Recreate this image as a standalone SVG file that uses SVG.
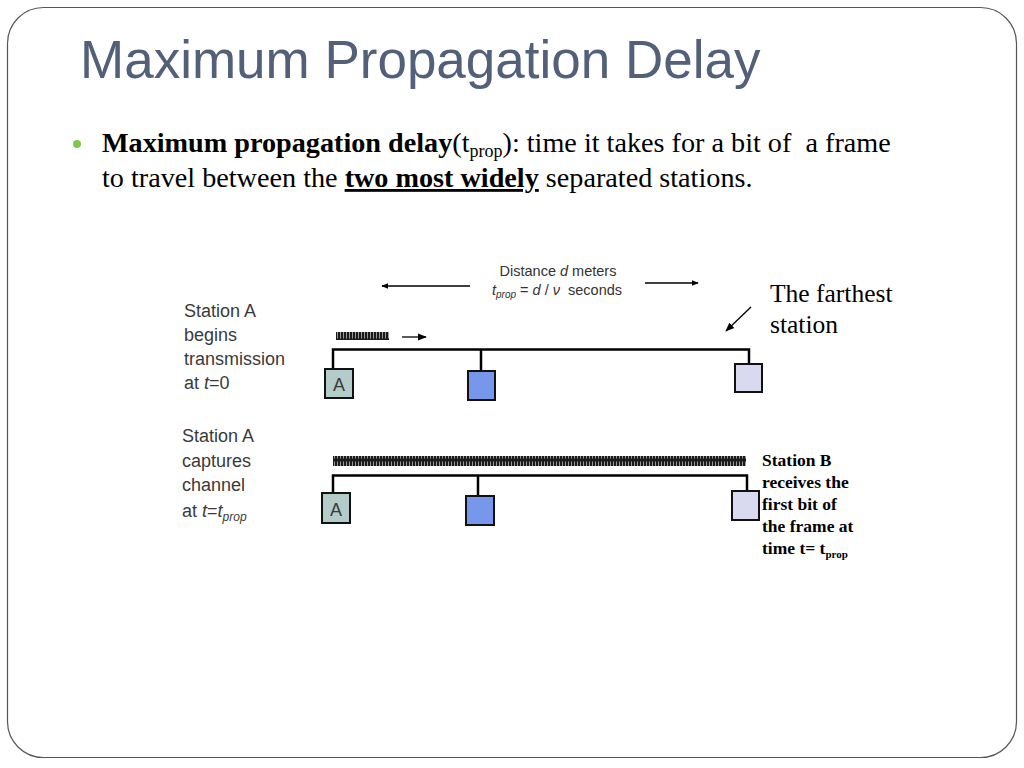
<svg xmlns="http://www.w3.org/2000/svg" width="1024" height="768" viewBox="0 0 1024 768">
<defs>
<style>
.title{font-family:"Liberation Sans",Arial,sans-serif;font-size:53px;fill:#52607A}
.body{font-family:"Liberation Serif","Times New Roman",serif;font-size:28.2px;fill:#000}
.lbl{font-family:"Liberation Sans",Arial,sans-serif;font-size:18px;fill:#3a3a3a}
.small{font-family:"Liberation Sans",Arial,sans-serif;font-size:14.5px;fill:#333}
.serif22{font-family:"Liberation Serif","Times New Roman",serif;font-size:25.5px;fill:#000}
.sb{font-family:"Liberation Serif","Times New Roman",serif;font-size:17.5px;font-weight:bold;fill:#000}
.bus{stroke:#000;stroke-width:2.5;fill:none}
.box{stroke:#111;stroke-width:2}
.arr{stroke:#000;stroke-width:1.3;fill:none}
</style>
<pattern id="bits" x="0" y="0" width="3" height="10" patternUnits="userSpaceOnUse">
<rect width="3" height="10" fill="#1a1a1a"/>
<rect x="1" y="1.5" width="1" height="7" fill="#999"/>
</pattern>
<marker id="ah" viewBox="0 0 10 10" refX="9" refY="5" markerWidth="7" markerHeight="7" markerUnits="userSpaceOnUse" orient="auto">
<path d="M0,1 L10,5 L0,9 Z" fill="#000"/>
</marker>
<marker id="ahb" viewBox="0 0 10 10" refX="9" refY="5" markerWidth="9" markerHeight="9" markerUnits="userSpaceOnUse" orient="auto">
<path d="M0,1 L10,5 L0,9 Z" fill="#000"/>
</marker>
</defs>
<rect x="0" y="0" width="1024" height="768" fill="#fff"/>
<rect x="7.5" y="7.5" width="1009" height="750" rx="36" ry="36" fill="none" stroke="#555" stroke-width="1.2"/>

<text class="title" x="80" y="78">Maximum Propagation Delay</text>

<circle cx="77" cy="144" r="4" fill="#7CC84A"/>
<text class="body" x="102" y="152" xml:space="preserve"><tspan font-weight="bold">Maximum propagation delay</tspan>(t<tspan font-size="18" dy="5">prop</tspan><tspan dy="-5">): time it takes for a bit of  a frame</tspan></text>
<text class="body" x="102" y="187">to travel between the <tspan font-weight="bold" text-decoration="underline">two most widely</tspan> separated stations.</text>

<g id="connectors">
<line class="arr" x1="470" y1="286" x2="382" y2="286" marker-end="url(#ah)"/>
<line class="arr" x1="645" y1="283" x2="698" y2="283" marker-end="url(#ah)"/>
<line class="arr" x1="402" y1="337" x2="426" y2="337" stroke-width="2" marker-end="url(#ahb)"/>
<line class="arr" x1="751" y1="307" x2="726" y2="331" marker-end="url(#ahb)"/>
<polyline class="bus" points="333,370 333,349.5 749,349.5 749,364"/>
<line class="bus" x1="481" y1="349.5" x2="481" y2="371"/>
<polyline class="bus" points="333,493 333,475.5 747,475.5 747,491"/>
<line class="bus" x1="478" y1="475.5" x2="478" y2="496"/>
</g>

<g id="distance-label">
<text class="small" x="558" y="276" text-anchor="middle">Distance <tspan font-style="italic">d</tspan> meters</text>
<text class="small" x="557" y="295" text-anchor="middle" xml:space="preserve"><tspan font-style="italic">t</tspan><tspan font-style="italic" font-size="10" dy="3">prop</tspan><tspan dy="-3"> = </tspan><tspan font-style="italic">d</tspan> / <tspan font-style="italic">ν</tspan>  seconds</text>
</g>

<g id="farthest-label">
<text class="serif22" x="770" y="302">The farthest</text>
<text class="serif22" x="770" y="333">station</text>
</g>

<g id="label-t0">
<text class="lbl" x="184" y="317">Station A</text>
<text class="lbl" x="184" y="341">begins</text>
<text class="lbl" x="184" y="365">transmission</text>
<text class="lbl" x="184" y="389">at <tspan font-style="italic">t</tspan>=0</text>
</g>

<g id="frame-small">
<rect x="336" y="332" width="53" height="8" fill="url(#bits)"/>
</g>

<g id="station-A1">
<rect class="box" x="325" y="369" width="28" height="29" fill="#B3CBC9"/>
<text class="lbl" x="339" y="391" text-anchor="middle" fill="#222" font-size="20">A</text>
</g>
<g id="station-mid1">
<rect class="box" x="468" y="371" width="27" height="29" fill="#7697EC"/>
</g>
<g id="station-far1">
<rect class="box" x="735" y="364" width="27" height="28" fill="#D9D9F0"/>
</g>

<g id="label-tprop">
<text class="lbl" x="182" y="442">Station A</text>
<text class="lbl" x="182" y="467">captures</text>
<text class="lbl" x="182" y="491">channel</text>
<text class="lbl" x="182" y="517">at <tspan font-style="italic">t</tspan>=<tspan font-style="italic">t</tspan><tspan font-style="italic" font-size="12" dy="4">prop</tspan></text>
</g>

<g id="frame-long">
<rect x="333" y="456" width="413" height="10" fill="url(#bits)"/>
</g>

<g id="station-A2">
<rect class="box" x="322" y="493" width="28" height="30" fill="#B3CBC9"/>
<text class="lbl" x="336" y="516" text-anchor="middle" fill="#222" font-size="20">A</text>
</g>
<g id="station-mid2">
<rect class="box" x="466" y="496" width="28" height="29" fill="#7697EC"/>
</g>
<g id="station-B2">
<rect class="box" x="732" y="491" width="27" height="29" fill="#D9D9F0"/>
</g>

<g id="label-B">
<text class="sb" x="762" y="466">Station B</text>
<text class="sb" x="762" y="488">receives the</text>
<text class="sb" x="762" y="510">first bit of</text>
<text class="sb" x="762" y="532">the frame at</text>
<text class="sb" x="762" y="554">time t= t<tspan font-size="11" dy="4">prop</tspan></text>
</g>
</svg>
